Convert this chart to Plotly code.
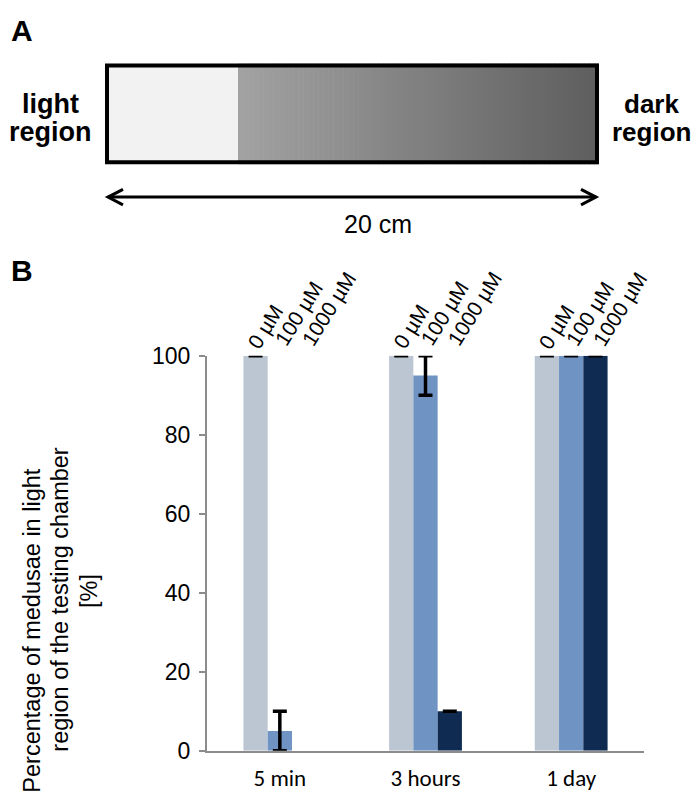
import numpy as np
import plotly.graph_objects as go

W, H = 700, 805
OFF = 8  # page body margin shifts the plot by 8px

# data
times = ["5 min", "3 hours", "1 day"]
conc_labels = ["0 µM", "100 µM", "1000 µM"]
pct_0uM = [100, 100, 100]
err_0uM = [0, 0, 0]
pct_100uM = [5, 95, 100]
err_100uM = [5, 5, 0]
pct_1000uM = [0, 10, 100]
err_1000uM = [np.nan, 0, 0]
y_ticks = [0, 20, 40, 60, 80, 100]

bar_colors = ["#bcc6d3", "#6f94c4", "#0f2b52"]
ARIAL = "Arial, Liberation Sans, sans-serif"
CALIBRI = "Calibri, Lato, sans-serif"


def px(x):
    return (x - OFF) / W


def py(y):
    return 1 - (y - OFF) / H


fig = go.Figure()
series = [(pct_0uM, err_0uM), (pct_100uM, err_100uM), (pct_1000uM, err_1000uM)]
for (vals, errs), lab, col in zip(series, conc_labels, bar_colors):
    fig.add_trace(go.Bar(
        x=times, y=vals, name=lab,
        marker=dict(color=col, line=dict(width=0)),
        error_y=dict(type="data", array=np.array(errs, dtype=float), visible=True,
                     color="black", thickness=3.5, width=7),
        cliponaxis=False,
    ))

shapes = []
# panel A: chamber
shapes.append(dict(type="rect", xref="paper", yref="paper",
                   x0=px(105), x1=px(238), y0=py(156), y1=py(52),
                   fillcolor="#f2f2f2", line=dict(width=0)))
n = 72
x_start, x_end = 238, 599
for k in range(n):
    g = int(round(162 - (162 - 94) * k / (n - 1)))
    x0 = x_start + (x_end - x_start) * k / n
    x1 = x_start + (x_end - x_start) * (k + 1) / n + 0.6
    shapes.append(dict(type="rect", xref="paper", yref="paper",
                       x0=px(x0), x1=px(min(x1, x_end)), y0=py(156), y1=py(52),
                       fillcolor=f"rgb({g},{g},{g})", line=dict(width=0)))
shapes.append(dict(type="rect", xref="paper", yref="paper",
                   x0=px(107), x1=px(597), y0=py(154), y1=py(54),
                   line=dict(color="black", width=4)))
# double arrow
shapes.append(dict(type="line", xref="paper", yref="paper",
                   x0=px(108), x1=px(596), y0=py(190), y1=py(190),
                   line=dict(color="black", width=3)))
for tip, back in [(108, 123), (596, 581)]:
    shapes.append(dict(type="path", xref="paper", yref="paper",
                       path=f"M {px(back)} {py(182)} L {px(tip)} {py(190)} L {px(back)} {py(198)}",
                       line=dict(color="black", width=3)))

annotations = [
    dict(text="<b>A</b>", x=px(9), y=py(18), xanchor="left", font=dict(size=30)),
    dict(text="<b>B</b>", x=px(9), y=py(266), xanchor="left", font=dict(size=30)),
    dict(text="<b>light</b>", x=px(50), y=py(94), font=dict(size=27)),
    dict(text="<b>region</b>", x=px(50), y=py(123), font=dict(size=27)),
    dict(text="<b>dark</b>", x=px(651), y=py(94), font=dict(size=26)),
    dict(text="<b>region</b>", x=px(651), y=py(123), font=dict(size=26)),
    dict(text="20 cm", x=px(378), y=py(218), font=dict(size=25)),
    dict(text="Percentage of medusae in light", x=px(32), y=py(638), textangle=-90, font=dict(size=23.5)),
    dict(text="region of the testing chamber", x=px(60), y=py(606), textangle=-90, font=dict(size=23.5)),
    dict(text="[%]", x=px(89), y=py(597), textangle=-90, font=dict(size=23.5)),
]
for a in annotations:
    a.setdefault("xanchor", "center")
    a.update(xref="paper", yref="paper", showarrow=False, yanchor="middle")
    a["font"].update(family=ARIAL, color="black")

# rotated concentration labels above each group
shifts = [(10, 29), (19, 42), (25, 47)]
for i in range(len(times)):
    for j, lab in enumerate(conc_labels):
        annotations.append(dict(
            text=lab, xref="x", yref="y", x=i + (j - 1) / 6, y=100,
            xshift=shifts[j][0], yshift=shifts[j][1], textangle=-58,
            showarrow=False, xanchor="center", yanchor="middle",
            font=dict(family=ARIAL, size=21, color="black")))

fig.update_layout(
    width=W, height=H,
    margin=dict(l=0, r=0, t=0, b=0),
    paper_bgcolor="white", plot_bgcolor="white",
    showlegend=False,
    barmode="group", bargap=0.5, bargroupgap=0,
    shapes=shapes, annotations=annotations,
    xaxis=dict(domain=[px(207), px(644)], range=[-0.5, 2.5], showgrid=False,
               showline=True, linecolor="#8c8c8c", linewidth=2, ticks="",
               ticklabelstandoff=6,
               tickfont=dict(family=CALIBRI, size=23, color="black")),
    yaxis=dict(domain=[py(762), py(354)], range=[0, 100], tickvals=y_ticks,
               showgrid=False, zeroline=False, showline=True, linecolor="#8c8c8c",
               linewidth=2, ticks="outside", ticklen=6, tickcolor="#8c8c8c", tickwidth=2,
               ticklabelstandoff=4,
               tickfont=dict(family=ARIAL, size=23, color="black")),
)

fig.write_html("out.html")
